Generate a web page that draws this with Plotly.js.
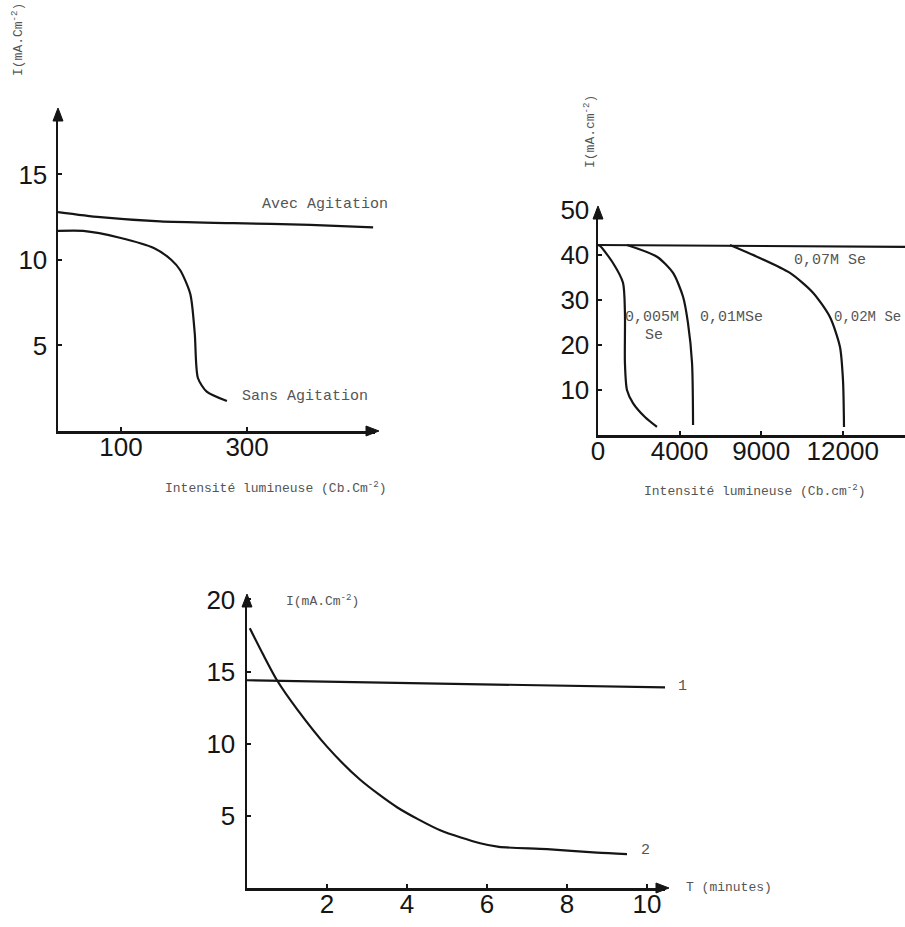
<!DOCTYPE html>
<html>
<head>
<meta charset="utf-8">
<script src="https://cdn.plot.ly/plotly-3.0.1.min.js"></script>
<style>html,body{margin:0;padding:0;background:#fff;}#chart{width:905px;height:927px;}</style>
</head>
<body>
<div id="chart"></div>
<script>
// ---- Chart 1: Avec / Sans agitation ----
const avecX = [0, 67, 162, 278, 400, 500];
const avecY = [12.8, 12.5, 12.25, 12.15, 12.05, 11.9];
const sansX = [0, 40, 98, 152, 180, 194, 210, 217, 222, 236, 268];
const sansY = [11.7, 11.7, 11.3, 10.7, 10.0, 9.4, 8.0, 5.7, 3.1, 2.3, 1.75];
const c1XTicks = [100, 300];
const c1YTicks = [5, 10, 15];

// ---- Chart 2: Se concentrations ----
const se07X = [0, 15050];
const se07Y = [42.2, 41.8];
const se005X = [0, 100, 735, 1225, 1320, 1320, 1420, 1715, 2300, 2890];
const se005Y = [42.2, 42.0, 38.2, 33.8, 27.1, 16.0, 10.0, 7.1, 4.0, 1.8];
const se01X = [1420, 2890, 3680, 4170, 4410, 4610, 4660];
const se01Y = [42.2, 39.6, 36.0, 30.7, 24.9, 16.0, 2.2];
const se02X = [6470, 7790, 9410, 10540, 11370, 11860, 12010, 12060];
const se02Y = [42.2, 39.6, 36.0, 31.6, 26.2, 19.6, 12.2, 1.8];
const c2XTicks = [0, 4000, 8000, 12000];
const c2XText = ["0", "4000", "9000", "12000"];
const c2YTicks = [10, 20, 30, 40, 50];

// ---- Chart 3: vs time ----
const t1X = [0, 10.45];
const t1Y = [14.4, 13.9];
const t2X = [0.07, 0.4, 0.75, 1.25, 2, 2.83, 3.75, 4.83, 5.83, 6.3, 7.5, 8.75, 9.5];
const t2Y = [18.0, 16.2, 14.4, 12.4, 9.8, 7.5, 5.6, 4.0, 3.1, 2.85, 2.7, 2.45, 2.35];
const c3XTicks = [2, 4, 6, 8, 10];
const c3YTicks = [5, 10, 15, 20];

const INK = '#151515';
const lineStyle = {color: INK, width: 2.2, shape: 'spline', smoothing: 0.7};
const lineStraight = {color: INK, width: 2.2};

function tr(x, y, xa, ya, line) {
  return {x: x, y: y, xaxis: xa, yaxis: ya, mode: 'lines', line: line, hoverinfo: 'skip', showlegend: false};
}

const data = [
  tr(avecX, avecY, 'x', 'y', lineStyle),
  tr(sansX, sansY, 'x', 'y', lineStyle),
  tr(se07X, se07Y, 'x2', 'y2', lineStraight),
  tr(se005X, se005Y, 'x2', 'y2', lineStyle),
  tr(se01X, se01Y, 'x2', 'y2', lineStyle),
  tr(se02X, se02Y, 'x2', 'y2', lineStyle),
  tr(t1X, t1Y, 'x3', 'y3', lineStraight),
  tr(t2X, t2Y, 'x3', 'y3', lineStyle)
];

const tickFont = {family: 'Liberation Sans, Arial, sans-serif', size: 26, color: INK};
function axis(extra) {
  return Object.assign({
    showline: true, linewidth: 2.5, linecolor: INK, showgrid: false, zeroline: false,
    ticks: 'inside', ticklen: 4, tickwidth: 2, tickcolor: INK, tickfont: tickFont,
    tickmode: 'array', fixedrange: true
  }, extra);
}

const W = 905, H = 927;
const px = v => v / W;
const py = v => 1 - v / H;

const smallFont = {family: 'Liberation Mono, Courier New, monospace', size: 15, color: '#555'};
const titleFont = {family: 'Liberation Mono, Courier New, monospace', size: 13, color: '#555'};

function label(text, x, y, extra) {
  return Object.assign({text: text, xref: 'paper', yref: 'paper', x: px(x), y: py(y), showarrow: false,
    font: smallFont, xanchor: 'center', yanchor: 'middle'}, extra || {});
}
function tri(pts) {
  const d = 'M ' + pts.map(p => px(p[0]).toFixed(5) + ',' + py(p[1]).toFixed(5)).join(' L ') + ' Z';
  return {type: 'path', xref: 'paper', yref: 'paper', path: d, fillcolor: INK, line: {color: INK, width: 1}};
}
function upArrow(x, y) { return tri([[x - 5, y + 13], [x, y], [x + 5, y + 13]]); }
function rightArrow(x, y) { return tri([[x - 13, y - 5], [x, y], [x - 13, y + 5]]); }

const layout = {
  width: W, height: H,
  margin: {l: 0, r: 0, t: 0, b: 0},
  paper_bgcolor: '#fff', plot_bgcolor: 'rgba(0,0,0,0)',
  showlegend: false,
  xaxis: axis({domain: [px(58), px(375)], range: [0, 503], anchor: 'y', tickvals: c1XTicks, ticklabelstandoff: -9}),
  yaxis: axis({domain: [py(431), py(112)], range: [0, 18.65], anchor: 'x', tickvals: c1YTicks, ticklabelstandoff: 3}),
  xaxis2: axis({domain: [px(598), 1], range: [0, 15050], anchor: 'y2', tickvals: c2XTicks, ticktext: c2XText, ticklabelstandoff: -9}),
  yaxis2: axis({domain: [py(435), py(209)], range: [0, 50.2], anchor: 'x2', tickvals: c2YTicks, ticklabelstandoff: 1}),
  xaxis3: axis({domain: [px(247), px(665)], range: [0, 10.45], anchor: 'y3', tickvals: c3XTicks, ticklabelstandoff: -9}),
  yaxis3: axis({domain: [py(888), py(598)], range: [0, 20.1], anchor: 'x3', tickvals: c3YTicks, ticklabelstandoff: 4}),
  shapes: [
    upArrow(58, 108),
    rightArrow(379, 431),
    upArrow(598, 206),
    upArrow(247, 594),
    rightArrow(669, 888)
  ],
  annotations: [
    label('Avec Agitation', 325, 205),
    label('Sans Agitation', 305, 396),
    label('I(mA.Cm<sup>-2</sup>)', 18, 40, {textangle: -90, font: titleFont}),
    label('Intensité lumineuse (Cb.Cm<sup>-2</sup>)', 276, 487, {font: titleFont}),
    label('0,07M Se', 830, 260),
    label('0,005M', 652, 317),
    label('Se', 654, 335),
    label('0,01MSe', 731, 317),
    label('0,02M Se', 903, 317, {xanchor: 'right', font: {family: smallFont.family, size: 14, color: '#555'}}),
    label('I(mA.cm<sup>-2</sup>)', 590, 132, {textangle: -90, font: titleFont}),
    label('Intensité lumineuse (Cb.cm<sup>-2</sup>)', 755, 490, {font: titleFont}),
    label('I(mA.Cm<sup>-2</sup>)', 322, 600, {font: titleFont}),
    label('1', 682, 686),
    label('2', 645, 850),
    label('T (minutes)', 729, 887, {font: titleFont})
  ]
};

Plotly.newPlot('chart', data, layout, {staticPlot: true, displayModeBar: false});
</script>
</body>
</html>
